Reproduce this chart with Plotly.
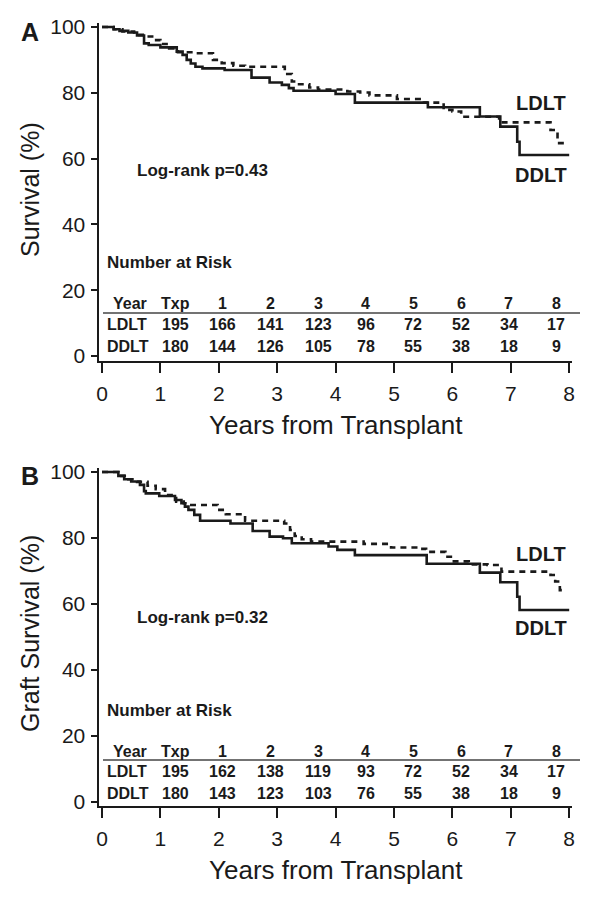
import plotly.graph_objects as go

# ---------------- data ----------------
# Panel A: patient survival, Kaplan-Meier step points (years, %)
a_ldlt_t = [0, 0.2, 0.35, 0.55, 0.75, 0.9, 1.0, 1.15, 1.3, 1.6, 1.9, 2.05, 2.25, 2.45,
            3.13, 3.25, 3.35, 3.55, 3.7, 4.2, 4.42, 4.58, 5.05, 5.5, 5.85, 6.0, 6.15,
            6.8, 7.68, 7.8, 7.93]
a_ldlt_s = [100, 99.3, 98.6, 97.6, 97.1, 96.0, 94.8, 93.5, 92.3, 92.0, 90.0, 89.0, 88.2, 87.9,
            85.7, 83.4, 82.6, 81.6, 81.0, 80.4, 80.1, 79.2, 78.1, 77.0, 74.8, 74.3, 72.7,
            71.0, 68.7, 64.7, 64.7]
a_ddlt_t = [0, 0.2, 0.3, 0.45, 0.6, 0.72, 0.8, 1.0, 1.28, 1.38, 1.45, 1.52, 1.6, 1.72,
            2.1, 2.56, 2.87, 3.08, 3.2, 3.28, 4.0, 4.33, 5.58, 6.47, 6.82, 7.11, 7.15, 8.0]
a_ddlt_s = [100, 99.3, 98.8, 98.3, 97.4, 95.0, 94.5, 93.8, 92.5, 91.5, 90.0, 88.9, 87.9, 87.4,
            86.9, 84.6, 83.1, 82.4, 81.4, 80.6, 79.6, 77.0, 75.6, 72.8, 69.7, 65.1, 61.1, 61.1]

# Panel B: graft survival
b_ldlt_t = [0, 0.28, 0.45, 0.6, 0.78, 0.92, 1.08, 1.27, 1.4, 1.5, 1.98, 2.12, 2.45,
            3.12, 3.22, 3.3, 3.42, 3.58, 4.48, 4.95, 5.38, 5.55, 5.88, 6.0, 6.28, 6.6,
            6.84, 7.68, 7.76, 7.84, 7.95]
b_ldlt_s = [100, 98.8, 97.8, 97.0, 95.8, 94.8, 93.0, 91.0, 90.5, 90.0, 88.5, 87.2, 85.2,
            84.4, 82.4, 80.6, 79.6, 78.9, 78.2, 77.1, 76.7, 75.8, 74.3, 72.9, 72.0, 71.8,
            69.8, 68.8, 66.8, 64.2, 64.2]
b_ddlt_t = [0, 0.28, 0.38, 0.5, 0.65, 0.72, 0.75, 0.98, 1.25, 1.36, 1.42, 1.48, 1.58, 1.68,
            2.2, 2.58, 2.87, 3.1, 3.25, 3.88, 4.03, 4.33, 5.56, 6.47, 6.82, 7.11, 7.15, 8.0]
b_ddlt_s = [100, 98.8, 97.8, 97.1, 96.1, 94.2, 93.5, 92.7, 91.5, 90.5, 89.5, 88.5, 87.0, 85.2,
            84.4, 82.1, 80.4, 79.9, 78.4, 77.4, 76.4, 74.8, 72.2, 69.5, 66.6, 62.2, 58.2, 58.2]

risk_header = ["Txp", "1", "2", "3", "4", "5", "6", "7", "8"]
a_risk_ldlt = [195, 166, 141, 123, 96, 72, 52, 34, 17]
a_risk_ddlt = [180, 144, 126, 105, 78, 55, 38, 18, 9]
b_risk_ldlt = [195, 162, 138, 119, 93, 72, 52, 34, 17]
b_risk_ddlt = [180, 143, 123, 103, 76, 55, 38, 18, 9]

y_ticks = [0, 20, 40, 60, 80, 100]
x_ticks = [0, 1, 2, 3, 4, 5, 6, 7, 8]

# ---------------- layout helpers ----------------
# the page body has an 8px default margin, so the figure is drawn 8px in from
# the window edge; all positions below are given in window pixels.
OFF = 8
W, H = 584, 887
FONT = "Liberation Sans, Arial, Helvetica, sans-serif"
INK = "#1a1a1a"

def px(x):
    return (x - OFF) / W

def py(y):
    return 1 - (y - OFF) / H

panels = [
    dict(name="A", ytitle="Survival (%)", p="Log-rank p=0.43",
         top=23, bottom=361, yr=[-1.52, 101.2],
         ldlt=(a_ldlt_t, a_ldlt_s), ddlt=(a_ddlt_t, a_ddlt_s),
         risk=(a_risk_ldlt, a_risk_ddlt),
         letter_y=32, ytitle_y=190, p_y=170, lab_l=103, lab_d=175,
         nar_y=262, head_y=303, line_y=313, row1_y=324, row2_y=346, xtitle_y=425),
    dict(name="B", ytitle="Graft Survival (%)", p="Log-rank p=0.32",
         top=468, bottom=806, yr=[-1.2, 101.2],
         ldlt=(b_ldlt_t, b_ldlt_s), ddlt=(b_ddlt_t, b_ddlt_s),
         risk=(b_risk_ldlt, b_risk_ddlt),
         letter_y=476, ytitle_y=634, p_y=617, lab_l=554, lab_d=628,
         nar_y=710, head_y=751, line_y=760, row1_y=771, row2_y=793, xtitle_y=870),
]

X_LEFT, X_RIGHT = 98.5, 572
XR = [-0.06, 8.048]
col_x = [175] + [223 + 47.6 * k for k in range(8)]

fig = go.Figure()
annotations = []
shapes = []

for i, pn in enumerate(panels):
    sfx = "" if i == 0 else str(i + 1)
    xa, ya = "x" + sfx, "y" + sfx
    fig.add_trace(go.Scatter(x=pn["ldlt"][0], y=pn["ldlt"][1], mode="lines",
                             line=dict(shape="hv", color=INK, width=2.6, dash="6px,5px"),
                             xaxis=xa, yaxis=ya, showlegend=False, hoverinfo="skip"))
    fig.add_trace(go.Scatter(x=pn["ddlt"][0], y=pn["ddlt"][1], mode="lines",
                             line=dict(shape="hv", color=INK, width=2.6),
                             xaxis=xa, yaxis=ya, showlegend=False, hoverinfo="skip"))
    axis_common = dict(showline=True, linecolor=INK, linewidth=2, ticks="outside",
                       tickcolor=INK, tickwidth=2, showgrid=False, zeroline=False,
                       automargin=False,
                       tickfont=dict(family=FONT, size=21, color=INK), fixedrange=True)
    fig.layout["xaxis" + sfx] = dict(axis_common, domain=[px(X_LEFT), px(X_RIGHT)],
                                     range=XR, tickvals=x_ticks, ticklen=10,
                                     anchor=ya, ticklabelstandoff=3)
    fig.layout["yaxis" + sfx] = dict(axis_common, domain=[py(pn["bottom"]), py(pn["top"])],
                                     range=pn["yr"], tickvals=y_ticks, ticklen=6,
                                     anchor=xa, ticklabelstandoff=1)

    def ann(text, x, y, size, bold=True, xanchor="center", textangle=0):
        annotations.append(dict(text=("<b>%s</b>" % text) if bold else text,
                                x=px(x), y=py(y), xref="paper", yref="paper",
                                xanchor=xanchor, yanchor="middle", showarrow=False,
                                textangle=textangle,
                                font=dict(family=FONT, size=size, color=INK)))

    ann(pn["name"], 30, pn["letter_y"], 25)
    ann(pn["ytitle"], 30, pn["ytitle_y"], 25, bold=False, textangle=-90)
    ann("Years from Transplant", 336, pn["xtitle_y"], 26, bold=False)
    ann(pn["p"], 135, pn["p_y"], 17, xanchor="left")
    ann("LDLT", 541, pn["lab_l"], 20)
    ann("DDLT", 541, pn["lab_d"], 20)
    ann("Number at Risk", 105, pn["nar_y"], 17, xanchor="left")
    ann("Year", 149, pn["head_y"], 16, xanchor="right")
    ann("LDLT", 105, pn["row1_y"], 16, xanchor="left")
    ann("DDLT", 105, pn["row2_y"], 16, xanchor="left")
    for cx, h, v1, v2 in zip(col_x, risk_header, pn["risk"][0], pn["risk"][1]):
        ann(h, cx, pn["head_y"], 16)
        ann(str(v1), cx, pn["row1_y"], 16)
        ann(str(v2), cx, pn["row2_y"], 16)
    shapes.append(dict(type="line", xref="paper", yref="paper",
                       x0=px(103), x1=px(580), y0=py(pn["line_y"]), y1=py(pn["line_y"]),
                       line=dict(color="#444", width=1.5)))

fig.update_layout(width=W, height=H, margin=dict(l=0, r=0, t=0, b=0),
                  paper_bgcolor="white", plot_bgcolor="white",
                  annotations=annotations, shapes=shapes, showlegend=False)

fig.write_html("out.html")
